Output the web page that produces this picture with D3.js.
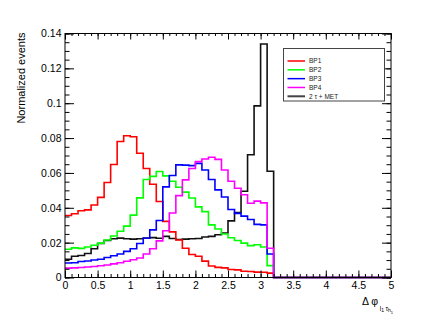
<!DOCTYPE html>
<html>
<head>
<meta charset="utf-8">
<script src="https://cdn.jsdelivr.net/npm/d3@7"></script>
<style>
  body { margin: 0; background: #fff; }
  svg { display: block; font-family: "Liberation Sans", Arial, sans-serif; }
</style>
</head>
<body>
<div id="chart"></div>
<script>
// histogram contents, bin width 0.1, bins from 0 to 3.2 (everything above is empty up to 5)
const binWidth = 0.1;
const xMax = 5;

const bp1 = [0.0356,0.0366,0.0383,0.0388,0.0416,0.0460,0.0545,0.0648,0.0780,0.0813,0.0808,0.0713,0.0625,0.0535,0.0436,0.0322,
             0.0262,0.0215,0.0168,0.0132,0.0122,0.0094,0.0066,0.0058,0.0055,0.0046,0.0044,0.0036,0.0034,0.0031,0.0030,0.0025];
const bp2 = [0.0162,0.0170,0.0167,0.0175,0.0185,0.0197,0.0215,0.0238,0.0265,0.0295,0.0358,0.0457,0.0562,0.0580,0.0608,0.0583,
             0.0552,0.0518,0.0490,0.0456,0.0405,0.0378,0.0302,0.0278,0.0250,0.0228,0.0212,0.0197,0.0183,0.0188,0.0175,0.0068];
const bp3 = [0.0083,0.0085,0.0092,0.0095,0.0100,0.0105,0.0115,0.0125,0.0135,0.0150,0.0165,0.0195,0.0225,0.0273,0.0327,0.0520,
             0.0585,0.0646,0.0645,0.0642,0.0655,0.0617,0.0562,0.0503,0.0462,0.0390,0.0368,0.0352,0.0333,0.0305,0.0302,0.0135];
const bp4 = [0.0054,0.0055,0.0057,0.0060,0.0063,0.0067,0.0072,0.0078,0.0085,0.0093,0.0102,0.0112,0.0135,0.0165,0.0210,0.0268,
             0.0370,0.0470,0.0560,0.0625,0.0665,0.0680,0.0690,0.0678,0.0617,0.0552,0.0512,0.0475,0.0426,0.0438,0.0428,0.0168];
const bkg = [0.0105,0.0122,0.0126,0.0138,0.0165,0.0195,0.0212,0.0222,0.0226,0.0222,0.0220,0.0222,0.0226,0.0229,0.0225,0.0236,
             0.0224,0.0218,0.0220,0.0222,0.0224,0.0232,0.0236,0.0245,0.0255,0.0325,0.0372,0.0495,0.0704,0.0985,0.1340,0.0610];

const seriesNames = ['BP1', 'BP2', 'BP3', 'BP4', '2 \u03c4 + MET'];
const seriesColors = ['#ff0000', '#00ff00', '#0000ff', '#ff00ff', '#111111'];

const xTicks = [0, 0.5, 1, 1.5, 2, 2.5, 3, 3.5, 4, 4.5, 5];
const xTickLabels = ['0', '0.5', '1', '1.5', '2', '2.5', '3', '3.5', '4', '4.5', '5'];
const yTicks = [0, 0.02, 0.04, 0.06, 0.08, 0.1, 0.12, 0.14];
const yTickLabels = ['0', '0.02', '0.04', '0.06', '0.08', '0.1', '0.12', '0.14'];

// set up the drawing area
const width = 436, height = 327;
const frame = {left: 65, right: 391, top: 33.5, bottom: 277.5};

const svg = d3.select('#chart')
  .append('svg')
  .attr('width', width)
  .attr('height', height);

const x = d3.scaleLinear().domain([0, xMax]).range([frame.left, frame.right]);
const y = d3.scaleLinear().domain([0, 0.14]).range([frame.bottom, frame.top]);

// histograms (background first, signal points on top)
const line = d3.line()
  .x(d => x(d[0]))
  .y(d => y(d[1]))
  .curve(d3.curveStepAfter);

function histPoints(vals) {
  const pts = vals.map((v, i) => [i * binWidth, v]);
  pts.push([vals.length * binWidth, 0]);
  pts.push([xMax, 0]);
  return pts;
}

const allSeries = [bp1, bp2, bp3, bp4, bkg];
const drawOrder = [4, 0, 1, 2, 3];
drawOrder.forEach(k => {
  svg.append('path')
    .attr('d', line(histPoints(allSeries[k])))
    .attr('fill', 'none')
    .attr('stroke', seriesColors[k])
    .attr('stroke-width', 1.6);
});

// frame
svg.append('rect')
  .attr('x', frame.left).attr('y', frame.top)
  .attr('width', frame.right - frame.left)
  .attr('height', frame.bottom - frame.top)
  .attr('fill', 'none')
  .attr('stroke', '#000')
  .attr('stroke-width', 1);

// axes, ROOT style: ticks inside the frame
const xMinor = d3.range(0, xMax + 0.001, 0.1);
const yMinor = d3.range(0, 0.1401, 0.005);

function tickAxis(axisFn, scale, values, size, pos, labels, padding) {
  const ax = axisFn(scale).tickValues(values).tickSize(size).tickSizeOuter(0);
  if (labels) ax.tickFormat((d, i) => labels[i]).tickPadding(padding);
  else ax.tickFormat('');
  const g = svg.append('g').attr('transform', pos).call(ax);
  g.select('.domain').remove();
  g.selectAll('line').attr('stroke', '#000').attr('stroke-width', 1);
  g.selectAll('text').attr('font-size', 10.5).attr('fill', '#000')
    .attr('font-family', '"Liberation Sans", Arial, sans-serif');
  return g;
}

// bottom
tickAxis(d3.axisBottom, x, xMinor, -3.5, `translate(0,${frame.bottom})`);
tickAxis(d3.axisBottom, x, xTicks, -7, `translate(0,${frame.bottom})`, xTickLabels, 4);
// top
tickAxis(d3.axisTop, x, xMinor, -2.5, `translate(0,${frame.top})`);
tickAxis(d3.axisTop, x, xTicks, -6, `translate(0,${frame.top})`);
// left
tickAxis(d3.axisLeft, y, yMinor, -4.5, `translate(${frame.left},0)`);
tickAxis(d3.axisLeft, y, yTicks, -9, `translate(${frame.left},0)`, yTickLabels, 3.5);
// right
tickAxis(d3.axisRight, y, yMinor, -4.5, `translate(${frame.right},0)`);
tickAxis(d3.axisRight, y, yTicks, -9, `translate(${frame.right},0)`);

// axis titles
svg.append('text')
  .attr('transform', `translate(25,${frame.top - 1}) rotate(-90)`)
  .attr('text-anchor', 'end')
  .attr('font-size', 11)
  .text('Normalized events');

const xt = svg.append('text')
  .attr('x', 362)
  .attr('y', 304.5)
  .attr('font-size', 10.5);
xt.append('tspan').text('\u0394 \u03c6');
xt.append('tspan').attr('font-size', 6.5).attr('dx', 1.5).attr('dy', 6).text('l');
xt.append('tspan').attr('font-size', 5).attr('dy', 1.5).text('1');
xt.append('tspan').attr('font-size', 6.5).attr('dx', 1.5).attr('dy', -1.5).text('\u03c4');
xt.append('tspan').attr('font-size', 5).attr('dy', 1.8).text('h');
xt.append('tspan').attr('font-size', 4).attr('dy', 1.2).text('1');

// legend
const legend = svg.append('g');
legend.append('rect')
  .attr('x', 283.5).attr('y', 48.5)
  .attr('width', 101).attr('height', 52.5)
  .attr('fill', '#fff')
  .attr('stroke', '#444')
  .attr('stroke-width', 1);

const legendY = d3.scalePoint().domain(seriesNames).range([61, 96.3]);
seriesNames.forEach((name, k) => {
  const yy = legendY(name);
  legend.append('line')
    .attr('x1', 287.5).attr('x2', 305)
    .attr('y1', yy).attr('y2', yy)
    .attr('stroke', k === 4 ? '#444' : seriesColors[k])
    .attr('stroke-width', k === 4 ? 2 : 1.5);
  legend.append('text')
    .attr('x', 309)
    .attr('y', yy)
    .attr('dy', '0.35em')
    .attr('font-size', 6.5)
    .attr('fill', '#222')
    .text(name);
});
</script>
</body>
</html>
